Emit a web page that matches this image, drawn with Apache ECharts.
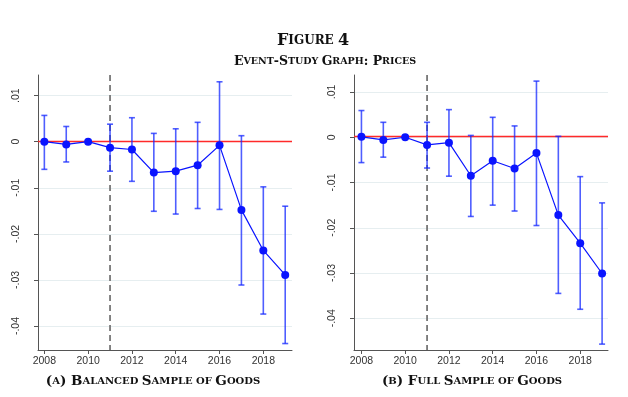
<!DOCTYPE html>
<html>
<head>
<meta charset="utf-8">
<script src="https://cdn.jsdelivr.net/npm/echarts@6/dist/echarts.min.js"></script>
<style>
  html, body { margin: 0; padding: 0; background: #fff; }
  #chart { width: 628px; height: 397px; }
</style>
</head>
<body>
<div id="chart"></div>
<script>
// data
var years = [2008, 2009, 2010, 2011, 2012, 2013, 2014, 2015, 2016, 2017, 2018, 2019]
var xTicks = [2008, 2010, 2012, 2014, 2016, 2018]
var yTicks = [-0.04, -0.03, -0.02, -0.01, 0, 0.01]
var eventYear = 2011
var zeroLevel = 0

// (a) balanced sample
var estA = [0, -0.0006, 0, -0.0013, -0.0017, -0.0067, -0.0064, -0.0051, -0.0008, -0.0148, -0.0236, -0.0289]
var highA = [0.0057, 0.0033, null, 0.0038, 0.0052, 0.0018, 0.0028, 0.0042, 0.0130, 0.0013, -0.0098, -0.0140]
var lowA = [-0.0060, -0.0044, null, -0.0064, -0.0086, -0.0151, -0.0157, -0.0145, -0.0147, -0.0311, -0.0374, -0.0438]

// (b) full sample
var estB = [0.0001, -0.0006, 0, -0.0017, -0.0012, -0.0085, -0.0052, -0.0069, -0.0035, -0.0172, -0.0234, -0.0301]
var highB = [0.0059, 0.0033, null, 0.0033, 0.0061, 0.0004, 0.0044, 0.0025, 0.0124, 0.0002, -0.0087, -0.0145]
var lowB = [-0.0056, -0.0044, null, -0.0068, -0.0086, -0.0175, -0.0150, -0.0163, -0.0195, -0.0345, -0.0380, -0.0457]

var axisColor = '#555'
var gridColor = '#e6eef0'
var blue = '#0a14ff'
var serif = '"DejaVu Serif", "Liberation Serif", serif'

// turn "Figure 4" into small caps rich text
function smallCaps(str) {
  var out = ''
  var cur = null
  var buf = ''
  for (var i = 0; i < str.length; i++) {
    var ch = str[i]
    var kind = (ch >= 'a' && ch <= 'z') ? 's' : 'b'
    if (ch === ' ') kind = cur || 'b'
    if (kind !== cur && buf) {
      out += '{' + cur + '|' + buf + '}'
      buf = ''
    }
    cur = kind
    buf += ch.toUpperCase()
  }
  if (buf) out += '{' + cur + '|' + buf + '}'
  return out
}

function richStyle(big, small) {
  return {
    b: { fontFamily: serif, fontWeight: 'bold', fontSize: big, fill: '#111' },
    s: { fontFamily: serif, fontWeight: 'bold', fontSize: small, fill: '#111' }
  }
}

function pairs(a, b) {
  return years.map(function (y, i) { return [y, a[i], b ? b[i] : undefined] })
}

function yLabel(v) {
  if (Math.abs(v) < 1e-9) return '0'
  return (v < 0 ? '-' : '') + Math.abs(v).toFixed(2).replace(/^0/, '')
}

function renderErrorBar(params, api) {
  if (api.value(1) == null || isNaN(api.value(1))) return
  var lo = api.coord([api.value(0), api.value(1)])
  var hi = api.coord([api.value(0), api.value(2)])
  var cap = 3
  var style = { stroke: 'rgba(20,40,255,0.75)', lineWidth: 1.6 }
  return {
    type: 'group',
    children: [
      { type: 'line', shape: { x1: lo[0], y1: lo[1], x2: hi[0], y2: hi[1] }, style: style },
      { type: 'line', shape: { x1: lo[0] - cap, y1: lo[1], x2: lo[0] + cap, y2: lo[1] }, style: style },
      { type: 'line', shape: { x1: hi[0] - cap, y1: hi[1], x2: hi[0] + cap, y2: hi[1] }, style: style }
    ]
  }
}

// snap a 1px line the same way the axis grid lines are snapped
function snap(pos) {
  var d = Math.round(pos * 2)
  return (d + 1) % 2 === 0 ? d / 2 : (d - 1) / 2
}

// red zero line across the plot, dashed grey line at the event year
function renderRefLines(params, api) {
  var cs = params.coordSys
  var p = api.coord([api.value(0), api.value(1)])
  var y = snap(p[1])
  return {
    type: 'group',
    children: [
      { type: 'line', shape: { x1: p[0], y1: cs.y, x2: p[0], y2: cs.y + cs.height },
        style: { stroke: '#777777', lineWidth: 1.8, lineDash: [6, 4] } },
      { type: 'line', shape: { x1: cs.x, y1: y, x2: cs.x + cs.width, y2: y },
        style: { stroke: '#ff2a2a', lineWidth: 1.3 } }
    ]
  }
}

function xAxisOf(idx, min, max) {
  return {
    type: 'value', gridIndex: idx, min: min, max: max,
    axisLine: { show: true, onZero: false, lineStyle: { color: axisColor } },
    axisTick: { show: true, length: 4, lineStyle: { color: axisColor }, customValues: xTicks },
    axisLabel: {
      customValues: xTicks, color: '#333', fontSize: 10.5, fontFamily: 'Liberation Sans, Arial', margin: 6,
      formatter: function (v) { return String(v) }
    },
    splitLine: { show: false }
  }
}

function yAxisOf(idx, min, max) {
  return {
    type: 'value', gridIndex: idx, min: min, max: max,
    axisLine: { show: true, onZero: false, lineStyle: { color: axisColor } },
    axisTick: { show: true, length: 4, lineStyle: { color: axisColor }, customValues: yTicks },
    axisLabel: {
      customValues: yTicks, rotate: 90, color: '#333', fontSize: 10.5,
      fontFamily: 'Liberation Sans, Arial', margin: 16, formatter: yLabel
    },
    splitLine: { show: true, lineStyle: { color: gridColor, width: 1 } }
  }
}

function panelSeries(idx, est, low, high) {
  return [
    {
      type: 'custom', xAxisIndex: idx, yAxisIndex: idx, z: 2, silent: true,
      renderItem: renderRefLines,
      encode: { x: 0, y: 1 },
      data: [[eventYear, zeroLevel]]
    },
    {
      type: 'custom', xAxisIndex: idx, yAxisIndex: idx, z: 3,
      renderItem: renderErrorBar,
      encode: { x: 0, y: [1, 2] },
      data: pairs(low, high)
    },
    {
      type: 'line', xAxisIndex: idx, yAxisIndex: idx, z: 4,
      data: pairs(est),
      symbol: 'circle', symbolSize: 8,
      itemStyle: { color: blue },
      lineStyle: { color: blue, width: 1.2 }
    }
  ]
}

var chart = echarts.init(document.getElementById('chart'))
chart.setOption({
  animation: false,
  backgroundColor: '#fff',
  grid: [
    { left: 38, top: 75, width: 254, height: 275 },
    { left: 354, top: 75, width: 254, height: 275 }
  ],
  xAxis: [xAxisOf(0, 2007.71, 2019.31), xAxisOf(1, 2007.66, 2019.27)],
  yAxis: [yAxisOf(0, -0.0452, 0.01447), yAxisOf(1, -0.0470, 0.01375)],
  series: panelSeries(0, estA, lowA, highA).concat(panelSeries(1, estB, lowB, highB)),
  graphic: [
    { type: 'text', x: 313, y: 41, style: { text: smallCaps('Figure 4'), rich: richStyle(16, 12), align: 'center', verticalAlign: 'middle' } },
    { type: 'text', x: 325, y: 62, style: { text: smallCaps('Event-Study Graph: Prices'), rich: richStyle(12.5, 9.5), align: 'center', verticalAlign: 'middle' } },
    { type: 'text', x: 153, y: 381, style: { text: smallCaps('(a) Balanced Sample of Goods'), rich: richStyle(13.5, 10), align: 'center', verticalAlign: 'middle' } },
    { type: 'text', x: 472, y: 381, style: { text: smallCaps('(b) Full Sample of Goods'), rich: richStyle(13.5, 10), align: 'center', verticalAlign: 'middle' } }
  ]
})
</script>
</body>
</html>
